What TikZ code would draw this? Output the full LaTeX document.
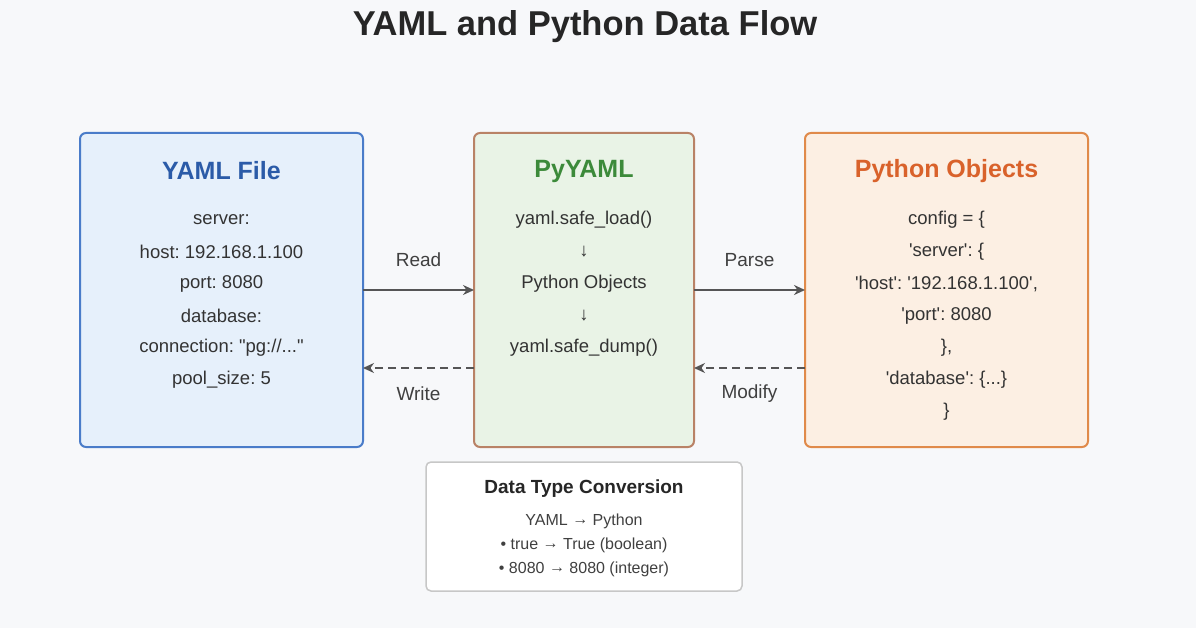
\documentclass[tikz,border=0pt]{standalone}
\usepackage{fontspec}
\setmainfont{Liberation Sans}
\usetikzlibrary{arrows.meta}
\frenchspacing
\newcommand\tdots{...}
\newcommand\sq{\textquotesingle}
\newcommand\dnarr{\symbol{"2193}}
\newcommand\rtarr{\raisebox{1pt}{\symbol{"2192}}}
\definecolor{bgc}{HTML}{F7F8FA}
\definecolor{yamlfill}{HTML}{E6F0FB}
\definecolor{yamldraw}{HTML}{4A7CC9}
\definecolor{yamltext}{HTML}{2B5BA8}
\definecolor{pyfill}{HTML}{E9F3E6}
\definecolor{pydraw}{HTML}{B98266}
\definecolor{pytext}{HTML}{3C8A3A}
\definecolor{objfill}{HTML}{FCEFE3}
\definecolor{objdraw}{HTML}{E08A4A}
\definecolor{objtext}{HTML}{D9622B}
\definecolor{flowc}{HTML}{555555}
\tikzset{
  box/.style={draw, line width=2pt, rounded corners=6pt},
  head/.style={font=\fontsize{25}{30}\selectfont\bfseries},
  body/.style={font=\fontsize{18.5}{22}\selectfont, text=black!80},
  flow/.style={flowc, line width=2.2pt, -{Stealth[length=11pt,width=10pt]}},
  back/.style={flow, dashed, dash pattern=on 8pt off 5pt},
  lab/.style={font=\fontsize{19}{22}\selectfont, text=black!75}
}
\begin{document}
\begin{tikzpicture}[x=1pt,y=-1pt]
\fill[bgc] (0,0) rectangle (1196,628);
\useasboundingbox (0,0) rectangle (1196,628);
\node[font=\fontsize{34.5}{40}\selectfont\bfseries, text=black!85] (title) at (585,27) {YAML and Python Data Flow};
% boxes
\draw[box, yamldraw, fill=yamlfill] (80,133) rectangle (363,447);
\draw[box, pydraw, fill=pyfill] (474,133) rectangle (694,447);
\draw[box, objdraw, fill=objfill] (805,133) rectangle (1088,447);
\draw[line width=1.5pt, draw=black!22, fill=white, rounded corners=5pt] (426,462) rectangle (742,591);
% anchors for the connectors
\coordinate (yR) at (363,290); \coordinate (yW) at (363,368);
\coordinate (pL) at (474,290); \coordinate (pLW) at (474,368);
\coordinate (pR) at (694,290); \coordinate (pRW) at (694,368);
\coordinate (oL) at (805,290); \coordinate (oW) at (805,368);
% headings
\node[head, text=yamltext] (yamlhead) at (221.5,171) {YAML File};
\node[head, text=pytext] (pyhead) at (584,171) {PyYAML};
\node[head, text=objtext] (objhead) at (946.5,171) {Python Objects};
% YAML file lines
\foreach \t [count=\i from 0] in {server:, host: 192.168.1.100, port: 8080, database:,
  {connection: \textquotedbl pg://\tdots\textquotedbl}, pool\_size: 5}
  \node[body] (y\i) at (221.5,220+32*\i) {\t};
% PyYAML lines
\foreach \t [count=\i from 0] in {yaml.safe\_load(), \dnarr, Python Objects, \dnarr, yaml.safe\_dump()}
  \node[body] (p\i) at (584,220+32*\i) {\t};
% Python object lines
\foreach \t [count=\i from 0] in {config = \{, {\sq server\sq: \{}, {\sq host\sq: \sq 192.168.1.100\sq,},
  {\sq port\sq: 8080}, {\},}, {\sq database\sq: \{\tdots\}}, \}}
  \node[body] (o\i) at (946.5,220+32*\i) {\t};
% connectors
\draw[flow] (yR) -- (pL);
\draw[back] (pLW) -- (yW);
\draw[flow] (pR) -- (oL);
\draw[back] (oW) -- (pRW);
\node[lab] (read) at (418.5,260) {Read};
\node[lab] (write) at (418.5,394) {Write};
\node[lab] (parse) at (749.5,260) {Parse};
\node[lab] (modify) at (749.5,394) {Modify};
% conversion note
\node[font=\fontsize{19}{22}\selectfont\bfseries, text=black!85] (convhead) at (584,489) {Data Type Conversion};
\foreach \t [count=\i from 0] in {YAML \rtarr{} Python, {\textbullet{} true \rtarr{} True (boolean)},
  {\textbullet{} 8080 \rtarr{} 8080 (integer)}}
  \node[font=\fontsize{16}{19}\selectfont, text=black!75] (c\i) at (584,521+24*\i) {\t};
\end{tikzpicture}
\end{document}
